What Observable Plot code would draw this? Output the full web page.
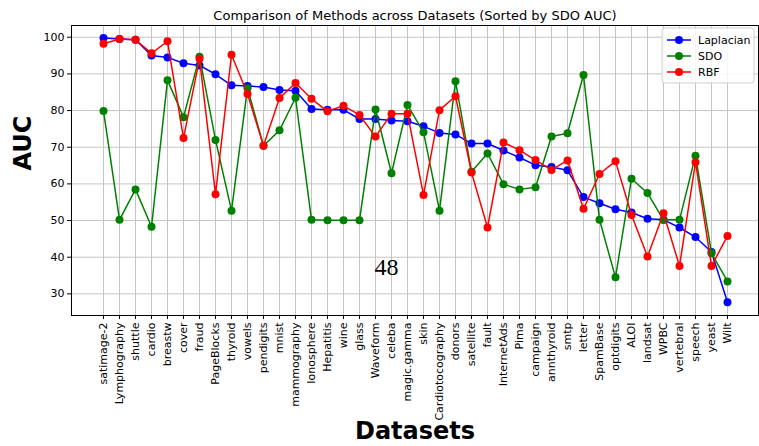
<!DOCTYPE html>
<html>
<head>
<meta charset="utf-8">
<script src="https://cdn.jsdelivr.net/npm/d3@7"></script>
<script src="https://cdn.jsdelivr.net/npm/@observablehq/plot@0.6"></script>
<style>
  body { margin: 0; background: white; }
</style>
</head>
<body>
<div id="chart"></div>
<script>
const categories = ["satimage-2","Lymphography","shuttle","cardio","breastw","cover","fraud","PageBlocks","thyroid","vowels","pendigits","mnist","mammography","Ionosphere","Hepatitis","wine","glass","Waveform","celeba","magic.gamma","skin","Cardiotocography","donors","satellite","fault","InternetAds","Pima","campaign","annthyroid","smtp","letter","SpamBase","optdigits","ALOI","landsat","WPBC","vertebral","speech","yeast","Wilt"];

const laplacian = [99.8,99.5,99.3,95.0,94.5,92.9,92.3,89.9,86.9,86.7,86.4,85.6,85.4,80.4,80.2,80.2,77.7,77.7,77.3,77.1,75.7,73.9,73.5,71.0,71.0,69.1,67.2,65.1,64.6,63.7,56.4,54.7,53.1,52.2,50.5,50.2,48.1,45.5,41.4,27.7];
const sdo = [79.9,50.2,58.5,48.3,88.3,78.2,94.7,72.0,52.7,86.1,70.4,74.6,83.5,50.2,50.1,50.1,50.1,80.3,62.9,81.5,74.1,52.7,88.0,63.3,68.3,59.9,58.5,59.1,72.9,73.8,89.7,50.2,34.5,61.4,57.5,50.2,50.2,67.7,41.1,33.4];
const rbf = [98.2,99.5,99.3,95.6,98.9,72.5,94.1,57.2,95.2,84.5,70.4,83.4,87.5,83.2,79.8,81.3,78.8,72.9,79.1,79.1,57.0,80.1,83.9,63.1,48.1,71.3,69.2,66.5,63.8,66.4,53.2,62.7,66.2,51.5,40.2,52.0,37.6,65.9,37.6,45.8];
const methods = ["Laplacian","SDO","RBF"];
const colors = ["blue","green","red"];
const yTicks = [30,40,50,60,70,80,90,100];

const series = [laplacian, sdo, rbf];
const rows = [];
series.forEach((vals, m) => vals.forEach((v, i) => rows.push({dataset: categories[i], auc: v, method: methods[m]})));

const seriesMarks = [];
methods.forEach((m, k) => {
  const d = rows.filter(r => r.method === m);
  seriesMarks.push(Plot.line(d, {x: "dataset", y: "auc", stroke: colors[k], strokeWidth: 1.5}));
  seriesMarks.push(Plot.dot(d, {x: "dataset", y: "auc", fill: colors[k], r: 4}));
});

const svg = Plot.plot({
  width: 759,
  height: 446,
  marginTop: 25,
  marginLeft: 71,
  marginRight: 1,
  marginBottom: 131,
  style: {fontFamily: "DejaVu Sans", fontSize: "11px", background: "white", color: "black"},
  x: {type: "point", domain: categories, padding: 1.95, label: null},
  y: {domain: [24.1, 103.2], label: null},
  marks: [
    Plot.gridX(categories, {stroke: "#c4c4c4", strokeOpacity: 1, strokeWidth: 1}),
    Plot.gridY(yTicks, {stroke: "#c4c4c4", strokeOpacity: 1, strokeWidth: 1}),
    Plot.axisX({tickRotate: -90, tickSize: 4, tickPadding: 3, fontSize: 11, label: null}),
    Plot.axisY(yTicks, {tickSize: 4, tickPadding: 3, fontSize: 11, label: null}),
    ...seriesMarks,
    Plot.text(["48"], {x: ["Waveform"], y: [37.2], dx: 11, fontFamily: "Liberation Serif", fontSize: 24}),
    Plot.frame({stroke: "black", strokeWidth: 1}),
    Plot.text(["Comparison of Methods across Datasets (Sorted by SDO AUC)"], {frameAnchor: "top", lineAnchor: "middle", dy: -10, fontSize: 13}),
    Plot.text(["AUC"], {frameAnchor: "left", dx: -48, rotate: -90, fontSize: 24, fontWeight: "bold"}),
    Plot.text(["Datasets"], {frameAnchor: "bottom", lineAnchor: "middle", dy: 116, fontSize: 24, fontWeight: "bold"})
  ]
});

// legend
const g = d3.select(svg).append("g").attr("font-family", "DejaVu Sans").attr("font-size", 11).attr("text-anchor", "start");
g.append("rect").attr("x", 662).attr("y", 28).attr("width", 92).attr("height", 55)
  .attr("rx", 3).attr("fill", "white").attr("fill-opacity", 0.85).attr("stroke", "#d0d0d0");
methods.forEach((m, k) => {
  const y = 40 + k * 16;
  g.append("line").attr("x1", 667).attr("x2", 691).attr("y1", y).attr("y2", y)
    .attr("stroke", colors[k]).attr("stroke-width", 1.5);
  g.append("circle").attr("cx", 679).attr("cy", y).attr("r", 4).attr("fill", colors[k]);
  g.append("text").attr("x", 698).attr("y", y).attr("dy", "0.35em").attr("text-anchor", "start").attr("fill", "black").text(m);
});

document.getElementById("chart").appendChild(svg);
</script>
</body>
</html>
